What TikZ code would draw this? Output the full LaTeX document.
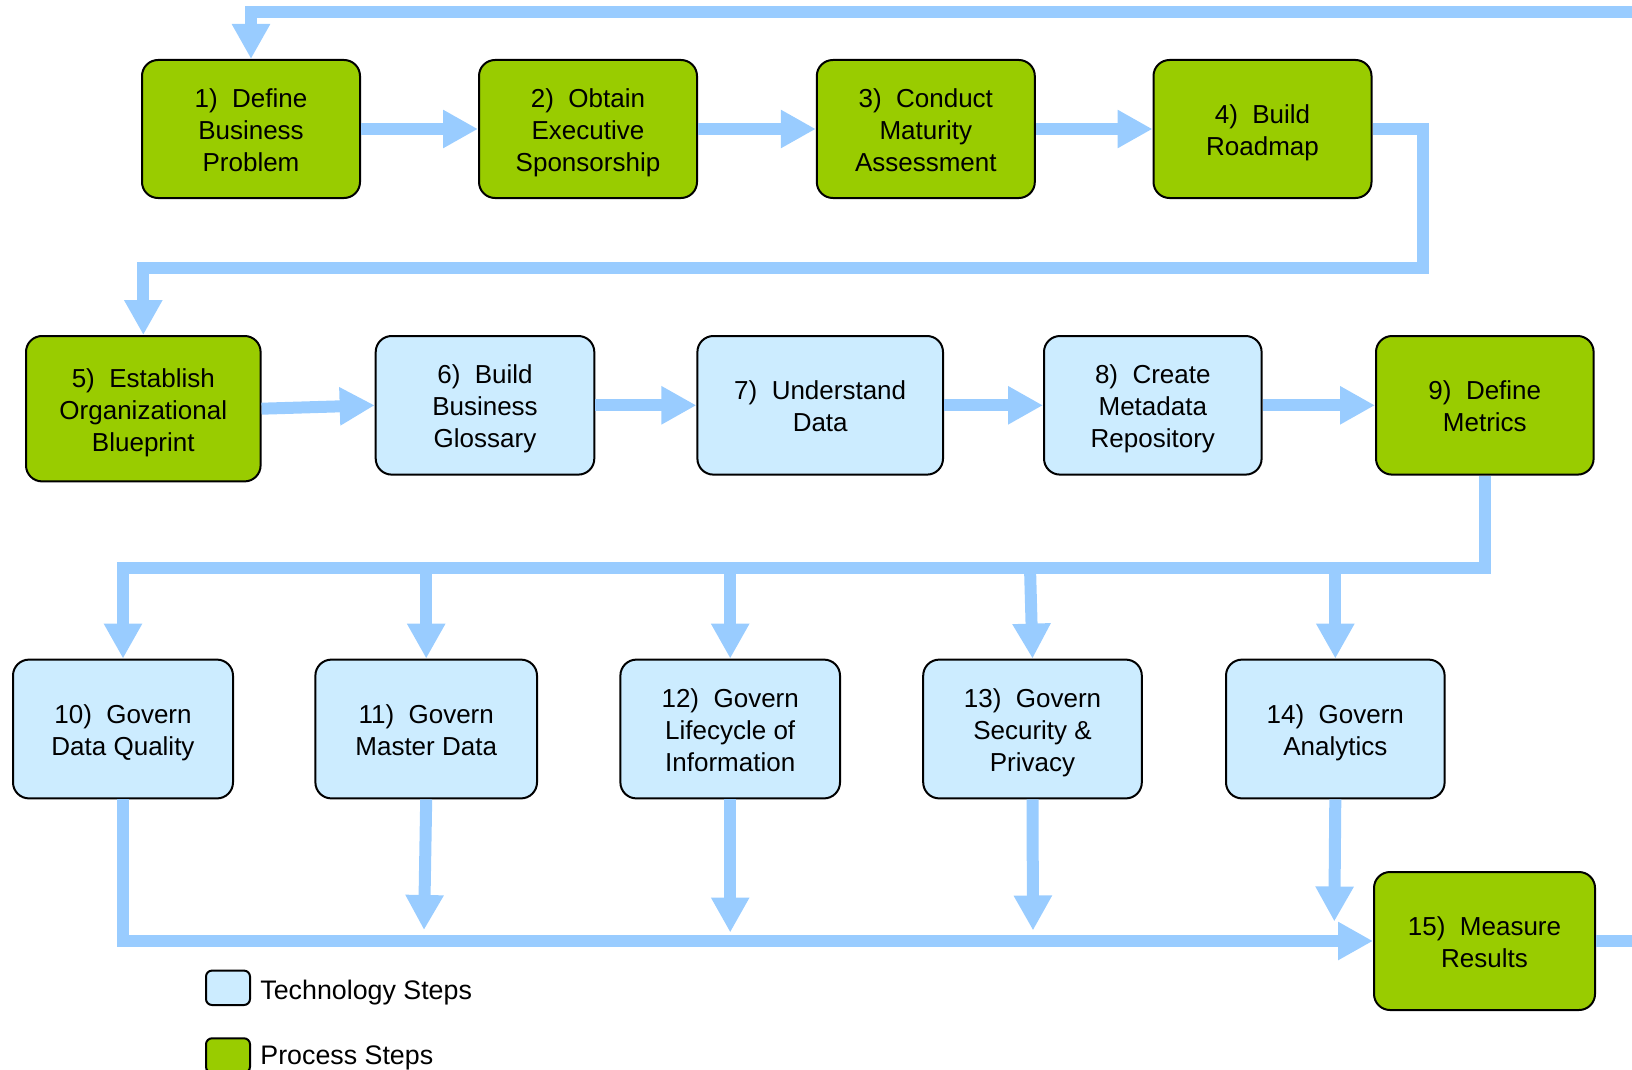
\documentclass[tikz,border=0pt]{standalone}
\usepackage{fontspec}
\setmainfont{Liberation Sans}
\usetikzlibrary{arrows.meta}
\definecolor{procgreen}{HTML}{99CC00}
\definecolor{techblue}{HTML}{CCECFF}
\definecolor{flowblue}{HTML}{99CCFF}
% struts that fix the height of the first and the depth of the last text line
\newcommand{\stepTop}{\rule{0pt}{13.6pt}}
\newcommand{\stepBot}{\rule[-3pt]{0pt}{0pt}}

\begin{document}
\begin{tikzpicture}[x=0.5pt,y=-0.5pt,
  stepbox/.style={draw=black, line width=1pt, rounded corners=8pt, align=center,
    inner sep=0pt, font=\fontsize{13pt}{16pt}\selectfont, text=black},
  procstep/.style={stepbox, fill=procgreen},
  techstep/.style={stepbox, fill=techblue},
  flow/.style={draw=flowblue, line width=6pt, line join=miter},
  flowarrow/.style={flow, -{Triangle[length=17.5pt,width=18pt]}},
  legbox/.style={draw=black, line width=1pt, rounded corners=3pt,
    minimum width=22pt, minimum height=17.2pt, inner sep=0pt},
  legtext/.style={anchor=base west, font=\fontsize{13.4pt}{16pt}\selectfont, inner sep=0pt}
]
\useasboundingbox (0,0) rectangle (1632,1070);
\clip (0,0) rectangle (1632,1070);

% ---- row 1 ----
\node[procstep, minimum width=109pt, minimum height=69pt] (n1) at (251,129) {\stepTop 1)\ \ Define\\Business\\Problem\stepBot};
\node[procstep, minimum width=109pt, minimum height=69pt] (n2) at (588,129) {\stepTop 2)\ \ Obtain\\Executive\\Sponsorship\stepBot};
\node[procstep, minimum width=109pt, minimum height=69pt] (n3) at (925.8,129) {\stepTop 3)\ \ Conduct\\Maturity\\Assessment\stepBot};
\node[procstep, minimum width=109pt, minimum height=69pt] (n4) at (1262.5,129) {\stepTop 4)\ \ Build\\Roadmap\stepBot};

% ---- row 2 ----
\node[procstep, minimum width=117.3pt, minimum height=72.7pt] (n5) at (143.3,408.7) {\stepTop 5)\ \ Establish\\Organizational\\Blueprint\stepBot};
\node[techstep, minimum width=109.3pt, minimum height=69.3pt] (n6) at (485,405.3) {\stepTop 6)\ \ Build\\Business\\Glossary\stepBot};
\node[techstep, minimum width=122.8pt, minimum height=69.3pt] (n7) at (820.2,405.3) {\stepTop 7)\ \ Understand\\Data\stepBot};
\node[techstep, minimum width=108.8pt, minimum height=69.3pt] (n8) at (1152.8,405.3) {\stepTop 8)\ \ Create\\Metadata\\Repository\stepBot};
\node[procstep, minimum width=108.8pt, minimum height=69.3pt] (n9) at (1484.8,405.3) {\stepTop 9)\ \ Define\\Metrics\stepBot};

% ---- row 3 ----
\node[techstep, minimum width=110pt, minimum height=69.4pt] (n10) at (123,729) {\stepTop 10)\ \ Govern\\Data Quality\stepBot};
\node[techstep, minimum width=110.8pt, minimum height=69.4pt] (n11) at (426.2,729) {\stepTop 11)\ \ Govern\\Master Data\stepBot};
\node[techstep, minimum width=109.8pt, minimum height=69.4pt] (n12) at (730.2,729) {\stepTop 12)\ \ Govern\\Lifecycle of\\Information\stepBot};
\node[techstep, minimum width=109.3pt, minimum height=69.4pt] (n13) at (1032.5,729) {\stepTop 13)\ \ Govern\\Security \&\\Privacy\stepBot};
\node[techstep, minimum width=109.3pt, minimum height=69.4pt] (n14) at (1335.3,729) {\stepTop 14)\ \ Govern\\Analytics\stepBot};

% ---- final step ----
\node[procstep, minimum width=110.5pt, minimum height=69pt] (n15) at (1484.5,941) {\stepTop 15)\ \ Measure\\Results\stepBot};

% ---- connectors ----
\draw[flowarrow] (n15.east) -- (1700,941) -- (1700,12) -- (251,12) -- (n1.north);
\draw[flowarrow] (n1.east) -- (n2.west);
\draw[flowarrow] (n2.east) -- (n3.west);
\draw[flowarrow] (n3.east) -- (n4.west);
\draw[flowarrow] (n4.east) -- (1423,129) -- (1423,267.5) -- (143.3,267.5) -- (n5.north);
\draw[flowarrow] (n5.east) -- (n6.west);
\draw[flowarrow] (n6.east) -- (n7.west);
\draw[flowarrow] (n7.east) -- (n8.west);
\draw[flowarrow] (n8.east) -- (n9.west);

% fan-out from step 9
\draw[flowarrow] (n9.south) -- (1484.8,567.5) -- (123,567.5) -- (n10.north);
\coordinate (b11) at (426.2,567.5);
\coordinate (b12) at (730.2,567.5);
\coordinate (b13) at (1030,567.5);
\coordinate (b14) at (1335.3,567.5);
\draw[flowarrow] (b11) -- (n11.north);
\draw[flowarrow] (b12) -- (n12.north);
\draw[flowarrow] (b13) -- (n13.north);
\draw[flowarrow] (b14) -- (n14.north);

% fan-in to step 15
\draw[flowarrow] (n10.south) -- (123,941) -- (n15.west);
\coordinate (t11) at (424,930);
\coordinate (t12) at (730.2,932.5);
\coordinate (t13) at (1033,930.5);
\coordinate (t14) at (1334.3,921.5);
\draw[flowarrow] (n11.south) -- (t11);
\draw[flowarrow] (n12.south) -- (t12);
\draw[flowarrow] (n13.south) -- (t13);
\draw[flowarrow] (n14.south) -- (t14);

% ---- legend ----
\node[legbox, fill=techblue] (legtech) at (228,987.8) {};
\node[legbox, fill=procgreen] (legproc) at (228,1055.5) {};
\node[legtext] (legtechtxt) at (260,999.5) {Technology Steps};
\node[legtext] (legproctxt) at (260,1064) {Process Steps};
\end{tikzpicture}
\end{document}
